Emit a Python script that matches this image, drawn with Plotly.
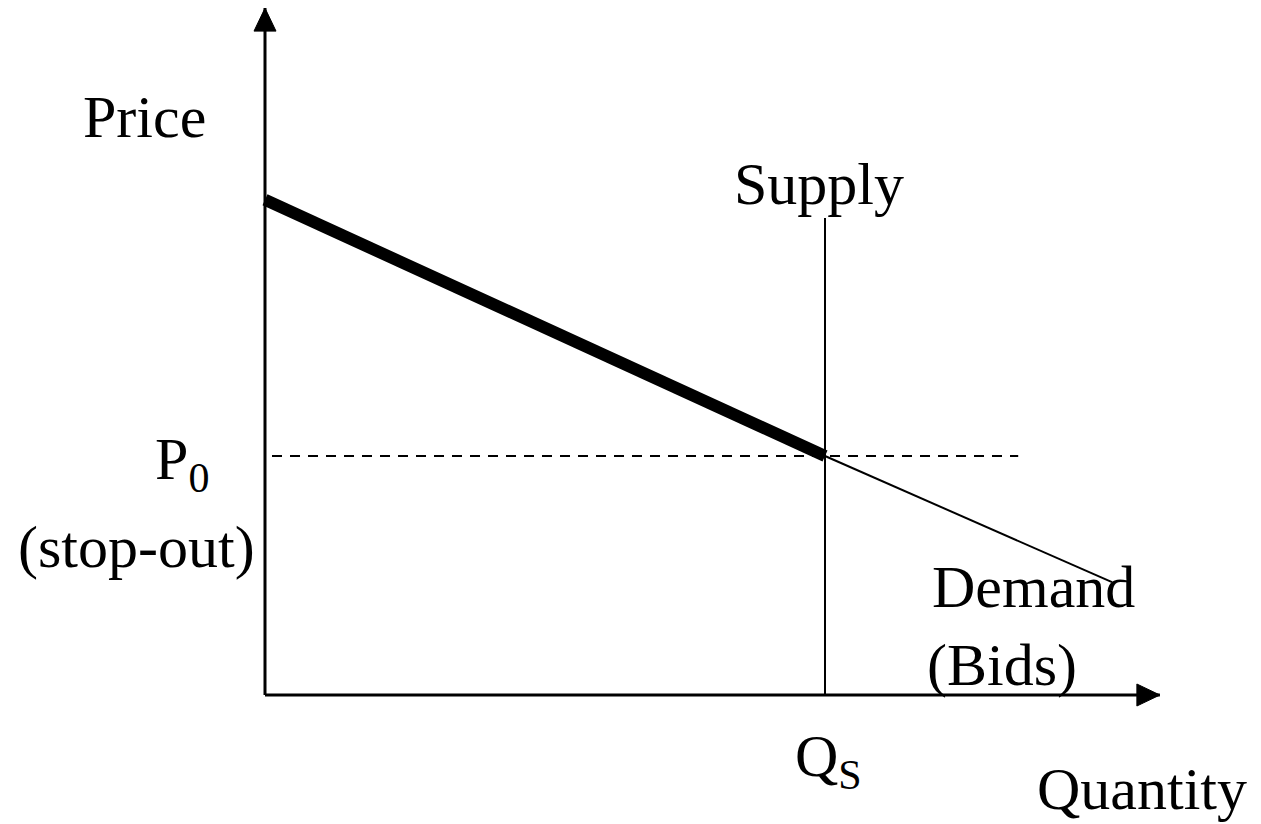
import plotly.graph_objects as go

# ---- data (abstract units: quantity, price) ----
bid_q = [0, 10]            # accepted bids (thick part of demand)
bid_p = [10.36, 5]
rest_q = [10, 15.125]      # rejected bids (thin continuation)
rest_p = [5, 2.36]
supply_q = [10, 10]
supply_p = [0, 9.98]
stop_q = [0.125, 13.45]    # dashed stop-out price line
stop_p = [5, 5]
axis_x_end = 15.98
axis_y_end = 14.37

# ---- pixel scale (layout) ----
PAGE = 8                   # default body margin of the page
W, H = 1261 - PAGE, 824 - PAGE
OX, OY = 265 - PAGE, 695 - PAGE   # origin in figure pixels
SX, SY = 56.0, 47.8        # pixels per unit
x_range = [-OX / SX, (W - OX) / SX]
y_range = [(OY - H) / SY, OY / SY]

def px(x):   # screen pixel -> data
    return (x - PAGE - OX) / SX
def py(y):
    return (OY - (y - PAGE)) / SY

BLACK = "#000000"
FONT = "Liberation Serif, Times New Roman, serif"

fig = go.Figure()

# axes
fig.add_trace(go.Scatter(x=[0, axis_x_end], y=[0, 0], mode="lines",
                         line=dict(color=BLACK, width=3), hoverinfo="skip"))
fig.add_trace(go.Scatter(x=[0, 0], y=[0, axis_y_end], mode="lines",
                         line=dict(color=BLACK, width=3), hoverinfo="skip"))

# arrow heads (size in pixels converted to data units)
hl, hw = 23, 11
fig.add_trace(go.Scatter(
    x=[axis_x_end, axis_x_end - hl / SX, axis_x_end - hl / SX, axis_x_end],
    y=[0, hw / SY, -hw / SY, 0], fill="toself", fillcolor=BLACK,
    mode="lines", line=dict(color=BLACK, width=1), hoverinfo="skip"))
fig.add_trace(go.Scatter(
    x=[0, -hw / SX, hw / SX, 0],
    y=[axis_y_end, axis_y_end - hl / SY, axis_y_end - hl / SY, axis_y_end],
    fill="toself", fillcolor=BLACK,
    mode="lines", line=dict(color=BLACK, width=1), hoverinfo="skip"))

# dashed stop-out line
fig.add_trace(go.Scatter(x=stop_q, y=stop_p, mode="lines",
                         line=dict(color=BLACK, width=2, dash="10px,8px"),
                         hoverinfo="skip"))
# supply
fig.add_trace(go.Scatter(x=supply_q, y=supply_p, mode="lines",
                         line=dict(color=BLACK, width=2), hoverinfo="skip"))
# demand continuation
fig.add_trace(go.Scatter(x=rest_q, y=rest_p, mode="lines",
                         line=dict(color=BLACK, width=2), hoverinfo="skip"))
# accepted bids
fig.add_trace(go.Scatter(x=bid_q, y=bid_p, mode="lines",
                         line=dict(color=BLACK, width=12), hoverinfo="skip"))

labels = [
    ("Price", 144.5, 117),
    ("Supply", 819, 184),
    ("P<sub>0</sub>", 182, 463),
    ("(stop-out)", 136, 547),
    ("Demand", 1033, 587),
    ("(Bids)", 1002, 665),
    ("Q<sub>S</sub>", 828, 760),
    ("Quantity", 1142, 789),
]
for text, x, y in labels:
    fig.add_annotation(x=px(x), y=py(y), text=text, showarrow=False,
                       xanchor="center", yanchor="middle",
                       font=dict(family=FONT, size=60, color=BLACK))

fig.update_layout(
    width=W, height=H, margin=dict(l=0, r=0, t=0, b=0),
    paper_bgcolor="white", plot_bgcolor="white", showlegend=False,
    xaxis=dict(range=x_range, visible=False, fixedrange=True),
    yaxis=dict(range=y_range, visible=False, fixedrange=True),
)
fig.write_html("out.html")
